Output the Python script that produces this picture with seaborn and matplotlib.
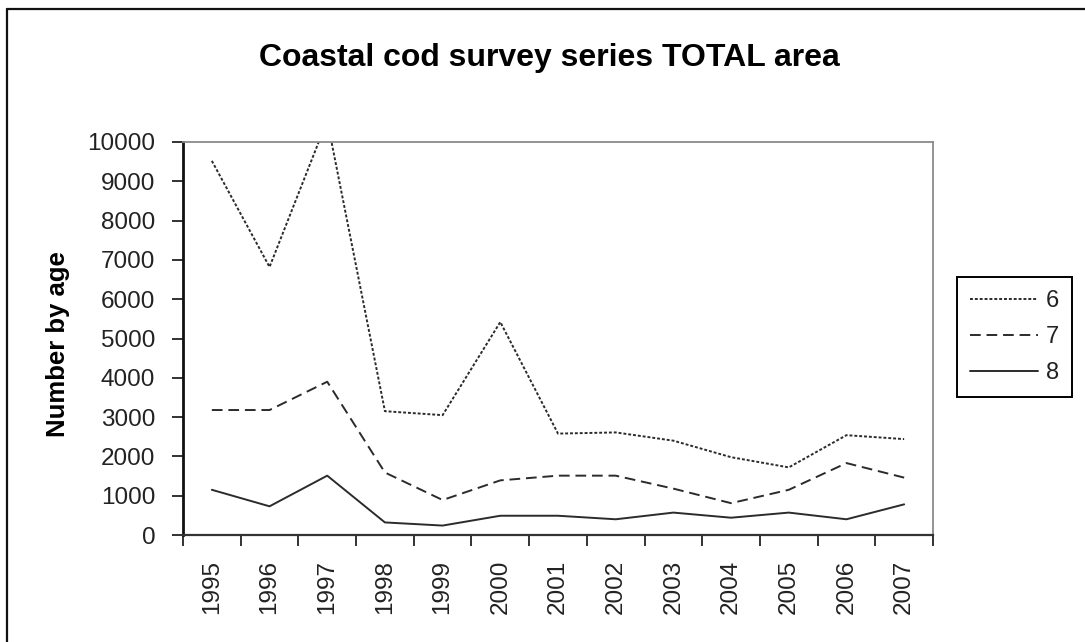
import numpy as np
import pandas as pd
import matplotlib
matplotlib.use("Agg")
import matplotlib.pyplot as plt
import seaborn as sns

# Survey index by age group, total area
years = [1995, 1996, 1997, 1998, 1999, 2000, 2001, 2002, 2003, 2004, 2005, 2006, 2007]
age6 = [9520, 6820, 10550, 3150, 3050, 5420, 2580, 2610, 2400, 1980, 1720, 2540, 2440]
age7 = [3180, 3180, 3900, 1590, 890, 1390, 1510, 1510, 1180, 810, 1150, 1830, 1460]
age8 = [1150, 730, 1510, 320, 240, 490, 490, 400, 570, 440, 570, 400, 780]
ages = ["6", "7", "8"]
y_ticks = list(range(0, 10001, 1000))

title = "Coastal cod survey series TOTAL area"
y_label = "Number by age"

df = pd.DataFrame({
    "pos": list(range(len(years))) * 3,
    "value": age6 + age7 + age8,
    "age": [a for a in ages for _ in years],
})

sns.set_theme(style="white")
plt.rcParams["font.family"] = ["Liberation Sans", "DejaVu Sans"]

fig = plt.figure(figsize=(10.85, 6.42), dpi=100)
ax = fig.add_axes([183 / 1085, 107 / 642, 750 / 1085, 393 / 642])

line_color = "#2b2b2b"
dash_map = {"6": (1.5, 1.0), "7": (5.5, 3.0), "8": ""}
sns.lineplot(data=df, x="pos", y="value", style="age", dashes=dash_map,
             color=line_color, linewidth=1.4, markers=False, ax=ax,
             legend="full")

ax.set_xlim(-0.5, len(years) - 0.5)
ax.set_ylim(0, 10000)
ax.set_xlabel("")
ax.set_ylabel("")

# category boundaries carry the tick marks, centres carry the labels
ax.set_xticks(np.arange(-0.5, len(years), 1.0))
ax.set_xticklabels([])
ax.set_xticks(range(len(years)), minor=True)
ax.set_xticklabels([str(y) for y in years], minor=True, rotation=90,
                   fontsize=17.5, color="#222222")
ax.tick_params(axis="x", which="major", direction="out", length=8,
               width=1.3, color="#222222", bottom=True)
ax.tick_params(axis="x", which="minor", length=0, pad=18, bottom=True)

ax.set_yticks(y_ticks)
ax.set_yticklabels([str(v) for v in y_ticks], fontsize=17.5, color="#222222")
ax.tick_params(axis="y", direction="out", length=8, width=1.3,
               color="#222222", pad=12, left=True)

for side in ("top", "right"):
    ax.spines[side].set_visible(True)
    ax.spines[side].set_color("#8a8a8a")
    ax.spines[side].set_linewidth(1.3)
ax.spines["left"].set_color("#111111")
ax.spines["left"].set_linewidth(2.0)
ax.spines["bottom"].set_color("#333333")
ax.spines["bottom"].set_linewidth(1.6)
ax.grid(False)

fig.text(549 / 1085, 1 - 58 / 642, title, ha="center", va="center",
         fontsize=23, fontweight="bold", color="black")
fig.text(58 / 1085, 1 - 344 / 642, y_label, ha="center", va="center",
         rotation=90, fontsize=18.5, fontweight="bold", color="black")

handles, labels = ax.get_legend_handles_labels()
ax.get_legend().remove()
leg = fig.legend(handles, labels, loc="upper left",
                 bbox_to_anchor=(957 / 1085, 1 - 277 / 642),
                 fontsize=17, frameon=True, fancybox=False, framealpha=1,
                 edgecolor="black", handlelength=2.9, handletextpad=0.3,
                 labelspacing=0.6, borderpad=0.55, borderaxespad=0)
leg.get_frame().set_linewidth(1.4)
for t in leg.get_texts():
    t.set_color("#222222")

# outer chart border
fig.add_artist(plt.Line2D([7 / 1085, 7 / 1085], [0, 1 - 9 / 642],
                          transform=fig.transFigure, color="#111111", lw=1.6))
fig.add_artist(plt.Line2D([7 / 1085, 1], [1 - 9 / 642, 1 - 9 / 642],
                          transform=fig.transFigure, color="#111111", lw=1.6))

fig.savefig("out.png", dpi=100, facecolor="white")
